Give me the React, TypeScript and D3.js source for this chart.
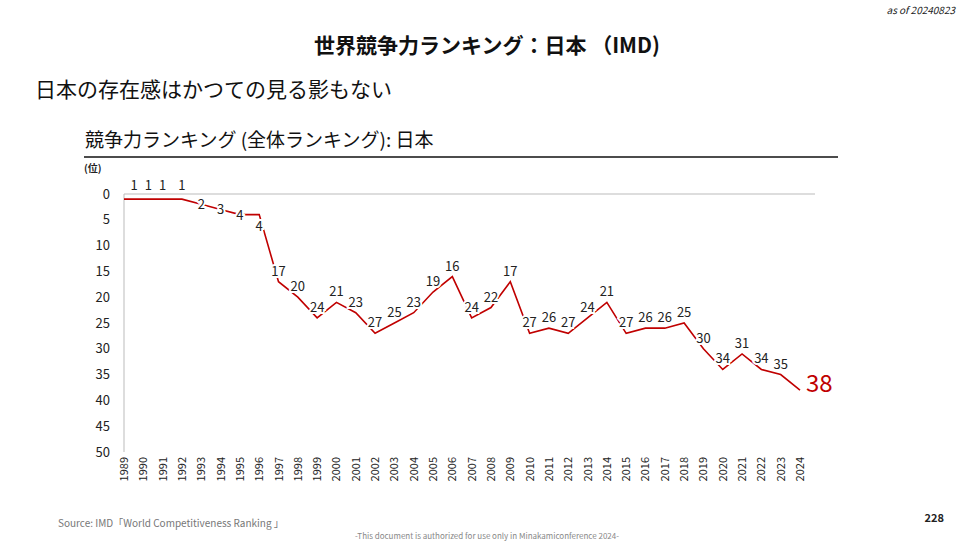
import * as d3 from 'd3';

const years = d3.range(1989, 2025);
const ranks = [1, 1, 1, 1, 2, 3, 4, 4, 17, 20, 24, 21, 23, 27, 25, 23, 19, 16, 24, 22, 17, 27, 26, 27, 24, 21, 27, 26, 26, 25, 30, 34, 31, 34, 35, 38];
const yTicks = [0, 5, 10, 15, 20, 25, 30, 35, 40, 45, 50];

const F = '"Noto Sans CJK JP", "Noto Sans", sans-serif';

export default function App() {
  const x = d3.scaleLinear().domain([1989, 2024]).range([124, 800]);
  const y = d3.scaleLinear().domain([0, 50]).range([194, 452]);
  const line = d3.line<number>().x((_, i) => x(years[i])).y(d => y(d));
  const last = ranks.length - 1;
  return (
    <svg width={975} height={548} style={{ position: 'absolute', left: 0, top: 0, fontFamily: F }}>
      <rect width={975} height={548} fill="#fff" />
      <text x={955} y={14} fontSize={10} fontStyle="italic" textAnchor="end" fill="#222">as of 20240823</text>
      <text x={487} y={53} fontSize={21} fontWeight="bold" textAnchor="middle" fill="#111">世界競争力ランキング：日本 （IMD)</text>
      <text x={35} y={97} fontSize={21} fill="#111">日本の存在感はかつての見る影もない</text>
      <text x={85} y={147} fontSize={19} fill="#111">競争力ランキング (全体ランキング): 日本</text>
      <line x1={84} x2={838} y1={157} y2={157} stroke="#111" strokeWidth={1.5} />
      <text x={84} y={172} fontSize={10} fontWeight="bold" fill="#222">(位)</text>
      <line x1={124} x2={815} y1={y(0)} y2={y(0)} stroke="#bbb" />
      <line x1={124} x2={124} y1={y(0)} y2={y(50)} stroke="#bbb" />
      {yTicks.map(t => (
        <text key={t} x={110} y={y(t)} dy="0.35em" fontSize={13} textAnchor="end" fill="#222">{t}</text>
      ))}
      {years.map(yr => (
        <text key={yr} transform={`translate(${x(yr) + 4},${y(50) + 5}) rotate(-90)`} fontSize={11} textAnchor="end" fill="#222">{yr}</text>
      ))}
      <path d={line(ranks) || ''} fill="none" stroke="#c00000" strokeWidth={1.6} />
      {ranks.map((r, i) => {
        const yr = years[i];
        if (i === last) {
          return <text key={yr} x={x(yr) + 6} y={y(r) + 2} fontSize={24} fill="#c00000">{r}</text>;
        }
        const lx = x(yr) + (i < 4 ? (i === 0 ? 10 : i === 1 ? 5 : 0) : 0);
        const ly = i < 4 ? y(0) - 4 : i >= 4 && i <= 6 ? y(r) + 5 : i === 7 ? y(r) + 16 : y(r) - 6;
        return (
          <text key={yr} x={lx} y={ly} fontSize={13} textAnchor="middle" fill="#222"
            stroke="#fff" strokeWidth={4} paintOrder="stroke">{r}</text>
        );
      })}
      <text x={58} y={527} fontSize={10} fill="#777">Source: IMD「World Competitiveness Ranking 」</text>
      <text x={487} y={539} fontSize={8} textAnchor="middle" fill="#888">-This document is authorized for use only in Minakamiconference 2024-</text>
      <text x={944} y={522} fontSize={11} fontWeight="bold" textAnchor="end" fill="#222">228</text>
    </svg>
  );
}
